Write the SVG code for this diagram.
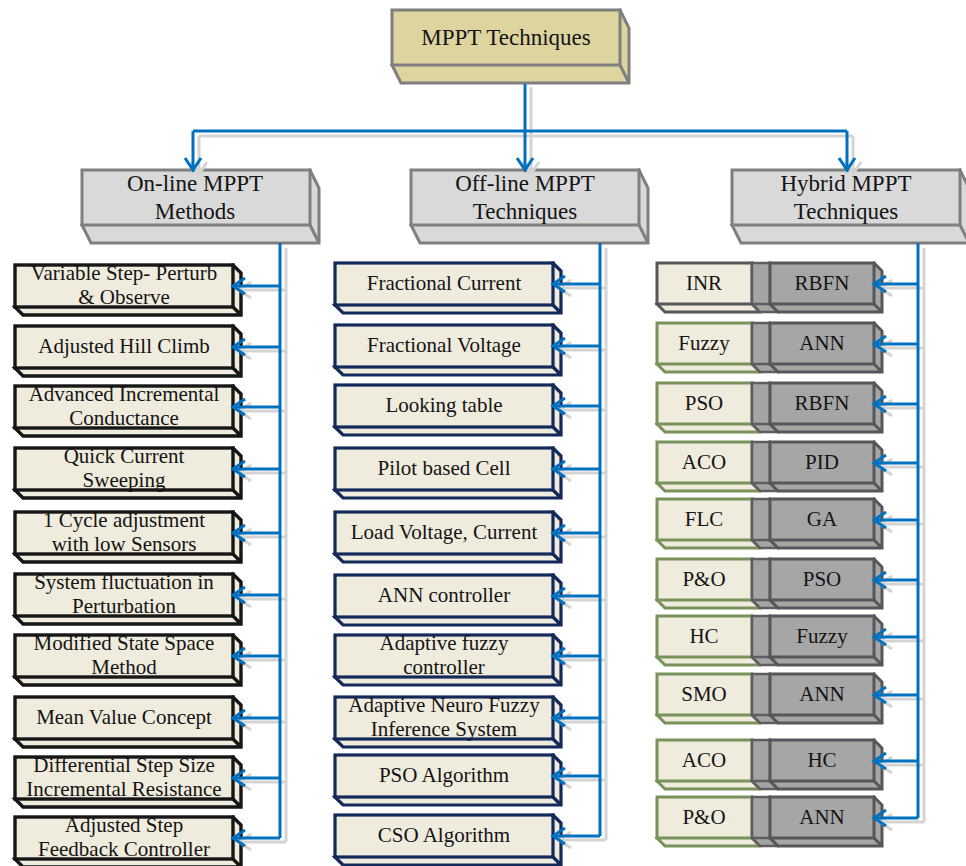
<svg xmlns="http://www.w3.org/2000/svg" xmlns:xlink="http://www.w3.org/1999/xlink" width="966" height="866" viewBox="0 0 966 866">
  <style>
    .top { fill: #DDD4A0; stroke: #7F7F7F; stroke-width: 3; }
    .hdr { fill: #D9D9D9; stroke: #7F7F7F; stroke-width: 3; }
    .on  { fill: #EFEBDD; stroke: #161616; stroke-width: 3.4; }
    .off { fill: #EFEBDD; stroke: #13295A; stroke-width: 3.2; }
    .hyA { fill: #EFEBDD; stroke: #77925A; stroke-width: 3; }
    .hyG { fill: #EFEBDD; stroke: #57575B; stroke-width: 3; }
    .hyN { fill: #A4A4A4; stroke: #5E5E62; stroke-width: 2.5; }
    .hyB { fill: #A6A6A6; stroke: #57575B; stroke-width: 3; }
    .blue { fill: none; stroke: #0070C0; stroke-width: 3; }
    .shade { fill: none; stroke: #D4D4D4; stroke-width: 3; }
    text { font-family: "Liberation Serif", "Times New Roman", serif; fill: #141414; text-anchor: middle; }
    .t { font-size: 21px; }
    .h { font-size: 23px; }
  </style>
  <defs>
    <!-- extruded box shapes, drawn at the origin -->
    <g id="shpH"><path d="M0,55 L9,73 H237 V18 L228,0 Z M228,55 L237,73"/><rect width="228" height="55"/></g>
    <g id="shpL"><path d="M0,42 L8,50 H226 V8 L218,0 Z M218,42 L226,50"/><rect width="218" height="42"/></g>
    <g id="shpA"><path d="M0,41 L8,49 H103 V8 L95,0 Z M95,41 L103,49"/><rect width="95" height="41"/></g>
    <g id="shpN"><path d="M0,41 L8,49 H26 V8 L18,0 Z M18,41 L26,49"/><rect width="18" height="41"/></g>
    <g id="shpC"><path d="M0,41 L8,49 H112 V8 L104,0 Z M104,41 L112,49"/><rect width="104" height="41"/></g>
    <marker id="ab" markerUnits="userSpaceOnUse" markerWidth="16" markerHeight="20" viewBox="0 0 16 20" refX="13" refY="10" orient="auto" overflow="visible">
      <path d="M1,2 L13,10 L1,18" fill="none" stroke="#0070C0" stroke-width="3"/>
    </marker>
    <marker id="ag" markerUnits="userSpaceOnUse" markerWidth="16" markerHeight="20" viewBox="0 0 16 20" refX="13" refY="10" orient="auto" overflow="visible">
      <path d="M1,2 L13,10 L1,18" fill="none" stroke="#D4D4D4" stroke-width="3"/>
    </marker>
  </defs>

  <!-- root -->
  <g id="root">
    <use xlink:href="#shpH" x="392" y="10" class="top"/>
    <text class="h" x="506" y="45">MPPT Techniques</text>
  </g>

  <!-- category headers -->
  <g id="online">
    <use xlink:href="#shpH" x="82" y="170" class="hdr"/>
    <text class="h" x="195" y="191">On-line MPPT</text>
    <text class="h" x="195" y="219">Methods</text>
  </g>
  <g id="offline">
    <use xlink:href="#shpH" x="411" y="170" class="hdr"/>
    <text class="h" x="525" y="191">Off-line MPPT</text>
    <text class="h" x="525" y="219">Techniques</text>
  </g>
  <g id="hybrid">
    <use xlink:href="#shpH" x="732" y="170" class="hdr"/>
    <text class="h" x="846" y="191">Hybrid MPPT</text>
    <text class="h" x="846" y="219">Techniques</text>
  </g>

  <!-- on-line methods -->
  <g id="on1"><use xlink:href="#shpL" x="15" y="265" class="on"/><text class="t" x="124" y="280">Variable Step- Perturb</text><text class="t" x="124" y="304">&amp; Observe</text></g>
  <g id="on2"><use xlink:href="#shpL" x="15" y="326" class="on"/><text class="t" x="124" y="353">Adjusted Hill Climb</text></g>
  <g id="on3"><use xlink:href="#shpL" x="15" y="386" class="on"/><text class="t" x="124" y="401">Advanced Incremental</text><text class="t" x="124" y="425">Conductance</text></g>
  <g id="on4"><use xlink:href="#shpL" x="15" y="448" class="on"/><text class="t" x="124" y="463">Quick Current</text><text class="t" x="124" y="487">Sweeping</text></g>
  <g id="on5"><use xlink:href="#shpL" x="15" y="512" class="on"/><text class="t" x="124" y="527">1 Cycle adjustment</text><text class="t" x="124" y="551">with low Sensors</text></g>
  <g id="on6"><use xlink:href="#shpL" x="15" y="574" class="on"/><text class="t" x="124" y="589">System fluctuation in</text><text class="t" x="124" y="613">Perturbation</text></g>
  <g id="on7"><use xlink:href="#shpL" x="15" y="635" class="on"/><text class="t" x="124" y="650">Modified State Space</text><text class="t" x="124" y="674">Method</text></g>
  <g id="on8"><use xlink:href="#shpL" x="15" y="697" class="on"/><text class="t" x="124" y="724">Mean Value Concept</text></g>
  <g id="on9"><use xlink:href="#shpL" x="15" y="757" class="on"/><text class="t" x="124" y="772">Differential Step Size</text><text class="t" x="124" y="796">Incremental Resistance</text></g>
  <g id="on10"><use xlink:href="#shpL" x="15" y="817" class="on"/><text class="t" x="124" y="832">Adjusted Step</text><text class="t" x="124" y="856">Feedback Controller</text></g>

  <!-- off-line techniques -->
  <g id="off1"><use xlink:href="#shpL" x="335" y="263" class="off"/><text class="t" x="444" y="290">Fractional Current</text></g>
  <g id="off2"><use xlink:href="#shpL" x="335" y="325" class="off"/><text class="t" x="444" y="352">Fractional Voltage</text></g>
  <g id="off3"><use xlink:href="#shpL" x="335" y="385" class="off"/><text class="t" x="444" y="412">Looking table</text></g>
  <g id="off4"><use xlink:href="#shpL" x="335" y="448" class="off"/><text class="t" x="444" y="475">Pilot based Cell</text></g>
  <g id="off5"><use xlink:href="#shpL" x="335" y="512" class="off"/><text class="t" x="444" y="539">Load Voltage, Current</text></g>
  <g id="off6"><use xlink:href="#shpL" x="335" y="575" class="off"/><text class="t" x="444" y="602">ANN controller</text></g>
  <g id="off7"><use xlink:href="#shpL" x="335" y="635" class="off"/><text class="t" x="444" y="650">Adaptive fuzzy</text><text class="t" x="444" y="674">controller</text></g>
  <g id="off8"><use xlink:href="#shpL" x="335" y="697" class="off"/><text class="t" x="444" y="712">Adaptive Neuro Fuzzy</text><text class="t" x="444" y="736">Inference System</text></g>
  <g id="off9"><use xlink:href="#shpL" x="335" y="755" class="off"/><text class="t" x="444" y="782">PSO Algorithm</text></g>
  <g id="off10"><use xlink:href="#shpL" x="335" y="815" class="off"/><text class="t" x="444" y="842">CSO Algorithm</text></g>

  <!-- hybrid pairs -->
  <g id="hy1"><use xlink:href="#shpA" x="657" y="263" class="hyG"/><use xlink:href="#shpN" x="752" y="263" class="hyN"/><use xlink:href="#shpC" x="770" y="263" class="hyB"/><text class="t" x="704" y="290">INR</text><text class="t" x="822" y="290">RBFN</text></g>
  <g id="hy2"><use xlink:href="#shpA" x="657" y="323" class="hyA"/><use xlink:href="#shpN" x="752" y="323" class="hyN"/><use xlink:href="#shpC" x="770" y="323" class="hyB"/><text class="t" x="704" y="350">Fuzzy</text><text class="t" x="822" y="350">ANN</text></g>
  <g id="hy3"><use xlink:href="#shpA" x="657" y="383" class="hyA"/><use xlink:href="#shpN" x="752" y="383" class="hyN"/><use xlink:href="#shpC" x="770" y="383" class="hyB"/><text class="t" x="704" y="410">PSO</text><text class="t" x="822" y="410">RBFN</text></g>
  <g id="hy4"><use xlink:href="#shpA" x="657" y="442" class="hyA"/><use xlink:href="#shpN" x="752" y="442" class="hyN"/><use xlink:href="#shpC" x="770" y="442" class="hyB"/><text class="t" x="704" y="469">ACO</text><text class="t" x="822" y="469">PID</text></g>
  <g id="hy5"><use xlink:href="#shpA" x="657" y="499" class="hyA"/><use xlink:href="#shpN" x="752" y="499" class="hyN"/><use xlink:href="#shpC" x="770" y="499" class="hyB"/><text class="t" x="704" y="526">FLC</text><text class="t" x="822" y="526">GA</text></g>
  <g id="hy6"><use xlink:href="#shpA" x="657" y="559" class="hyA"/><use xlink:href="#shpN" x="752" y="559" class="hyN"/><use xlink:href="#shpC" x="770" y="559" class="hyB"/><text class="t" x="704" y="586">P&amp;O</text><text class="t" x="822" y="586">PSO</text></g>
  <g id="hy7"><use xlink:href="#shpA" x="657" y="616" class="hyA"/><use xlink:href="#shpN" x="752" y="616" class="hyN"/><use xlink:href="#shpC" x="770" y="616" class="hyB"/><text class="t" x="704" y="643">HC</text><text class="t" x="822" y="643">Fuzzy</text></g>
  <g id="hy8"><use xlink:href="#shpA" x="657" y="674" class="hyA"/><use xlink:href="#shpN" x="752" y="674" class="hyN"/><use xlink:href="#shpC" x="770" y="674" class="hyB"/><text class="t" x="704" y="701">SMO</text><text class="t" x="822" y="701">ANN</text></g>
  <g id="hy9"><use xlink:href="#shpA" x="657" y="740" class="hyA"/><use xlink:href="#shpN" x="752" y="740" class="hyN"/><use xlink:href="#shpC" x="770" y="740" class="hyB"/><text class="t" x="704" y="767">ACO</text><text class="t" x="822" y="767">HC</text></g>
  <g id="hy10"><use xlink:href="#shpA" x="657" y="797" class="hyA"/><use xlink:href="#shpN" x="752" y="797" class="hyN"/><use xlink:href="#shpC" x="770" y="797" class="hyB"/><text class="t" x="704" y="824">P&amp;O</text><text class="t" x="822" y="824">ANN</text></g>

  <!-- connectors: soft shadow copy first, then the blue lines -->
  <g id="connectors">
    <g class="shade">
      <path d="M531,87 V136 M199,136 H853"/>
      <line x1="199" y1="136" x2="199" y2="174" marker-end="url(#ag)"/>
      <line x1="531" y1="136" x2="531" y2="174" marker-end="url(#ag)"/>
      <line x1="853" y1="136" x2="853" y2="174" marker-end="url(#ag)"/>
      <path d="M286,248 V842 M606,248 V840 M924,248 V822"/>
      <line x1="286" y1="290" x2="239" y2="290" marker-end="url(#ag)"/>
      <line x1="286" y1="351" x2="239" y2="351" marker-end="url(#ag)"/>
      <line x1="286" y1="411" x2="239" y2="411" marker-end="url(#ag)"/>
      <line x1="286" y1="473" x2="239" y2="473" marker-end="url(#ag)"/>
      <line x1="286" y1="537" x2="239" y2="537" marker-end="url(#ag)"/>
      <line x1="286" y1="599" x2="239" y2="599" marker-end="url(#ag)"/>
      <line x1="286" y1="660" x2="239" y2="660" marker-end="url(#ag)"/>
      <line x1="286" y1="722" x2="239" y2="722" marker-end="url(#ag)"/>
      <line x1="286" y1="782" x2="239" y2="782" marker-end="url(#ag)"/>
      <line x1="286" y1="842" x2="239" y2="842" marker-end="url(#ag)"/>
      <line x1="606" y1="288" x2="559" y2="288" marker-end="url(#ag)"/>
      <line x1="606" y1="350" x2="559" y2="350" marker-end="url(#ag)"/>
      <line x1="606" y1="410" x2="559" y2="410" marker-end="url(#ag)"/>
      <line x1="606" y1="473" x2="559" y2="473" marker-end="url(#ag)"/>
      <line x1="606" y1="537" x2="559" y2="537" marker-end="url(#ag)"/>
      <line x1="606" y1="600" x2="559" y2="600" marker-end="url(#ag)"/>
      <line x1="606" y1="660" x2="559" y2="660" marker-end="url(#ag)"/>
      <line x1="606" y1="722" x2="559" y2="722" marker-end="url(#ag)"/>
      <line x1="606" y1="780" x2="559" y2="780" marker-end="url(#ag)"/>
      <line x1="606" y1="840" x2="559" y2="840" marker-end="url(#ag)"/>
      <line x1="924" y1="288" x2="880" y2="288" marker-end="url(#ag)"/>
      <line x1="924" y1="348" x2="880" y2="348" marker-end="url(#ag)"/>
      <line x1="924" y1="408" x2="880" y2="408" marker-end="url(#ag)"/>
      <line x1="924" y1="467" x2="880" y2="467" marker-end="url(#ag)"/>
      <line x1="924" y1="524" x2="880" y2="524" marker-end="url(#ag)"/>
      <line x1="924" y1="584" x2="880" y2="584" marker-end="url(#ag)"/>
      <line x1="924" y1="641" x2="880" y2="641" marker-end="url(#ag)"/>
      <line x1="924" y1="699" x2="880" y2="699" marker-end="url(#ag)"/>
      <line x1="924" y1="765" x2="880" y2="765" marker-end="url(#ag)"/>
      <line x1="924" y1="822" x2="880" y2="822" marker-end="url(#ag)"/>
    </g>
    <g class="blue">
      <path d="M525,84 V131 M193,131 H847"/>
      <line x1="193" y1="131" x2="193" y2="170" marker-end="url(#ab)"/>
      <line x1="525" y1="131" x2="525" y2="170" marker-end="url(#ab)"/>
      <line x1="847" y1="131" x2="847" y2="170" marker-end="url(#ab)"/>
      <path d="M280,243 V838 M600,243 V836 M918,243 V818"/>
      <line x1="280" y1="286" x2="233" y2="286" marker-end="url(#ab)"/>
      <line x1="280" y1="347" x2="233" y2="347" marker-end="url(#ab)"/>
      <line x1="280" y1="407" x2="233" y2="407" marker-end="url(#ab)"/>
      <line x1="280" y1="469" x2="233" y2="469" marker-end="url(#ab)"/>
      <line x1="280" y1="533" x2="233" y2="533" marker-end="url(#ab)"/>
      <line x1="280" y1="595" x2="233" y2="595" marker-end="url(#ab)"/>
      <line x1="280" y1="656" x2="233" y2="656" marker-end="url(#ab)"/>
      <line x1="280" y1="718" x2="233" y2="718" marker-end="url(#ab)"/>
      <line x1="280" y1="778" x2="233" y2="778" marker-end="url(#ab)"/>
      <line x1="280" y1="838" x2="233" y2="838" marker-end="url(#ab)"/>
      <line x1="600" y1="284" x2="553" y2="284" marker-end="url(#ab)"/>
      <line x1="600" y1="346" x2="553" y2="346" marker-end="url(#ab)"/>
      <line x1="600" y1="406" x2="553" y2="406" marker-end="url(#ab)"/>
      <line x1="600" y1="469" x2="553" y2="469" marker-end="url(#ab)"/>
      <line x1="600" y1="533" x2="553" y2="533" marker-end="url(#ab)"/>
      <line x1="600" y1="596" x2="553" y2="596" marker-end="url(#ab)"/>
      <line x1="600" y1="656" x2="553" y2="656" marker-end="url(#ab)"/>
      <line x1="600" y1="718" x2="553" y2="718" marker-end="url(#ab)"/>
      <line x1="600" y1="776" x2="553" y2="776" marker-end="url(#ab)"/>
      <line x1="600" y1="836" x2="553" y2="836" marker-end="url(#ab)"/>
      <line x1="918" y1="284" x2="874" y2="284" marker-end="url(#ab)"/>
      <line x1="918" y1="344" x2="874" y2="344" marker-end="url(#ab)"/>
      <line x1="918" y1="404" x2="874" y2="404" marker-end="url(#ab)"/>
      <line x1="918" y1="463" x2="874" y2="463" marker-end="url(#ab)"/>
      <line x1="918" y1="520" x2="874" y2="520" marker-end="url(#ab)"/>
      <line x1="918" y1="580" x2="874" y2="580" marker-end="url(#ab)"/>
      <line x1="918" y1="637" x2="874" y2="637" marker-end="url(#ab)"/>
      <line x1="918" y1="695" x2="874" y2="695" marker-end="url(#ab)"/>
      <line x1="918" y1="761" x2="874" y2="761" marker-end="url(#ab)"/>
      <line x1="918" y1="818" x2="874" y2="818" marker-end="url(#ab)"/>
    </g>
  </g>
</svg>
